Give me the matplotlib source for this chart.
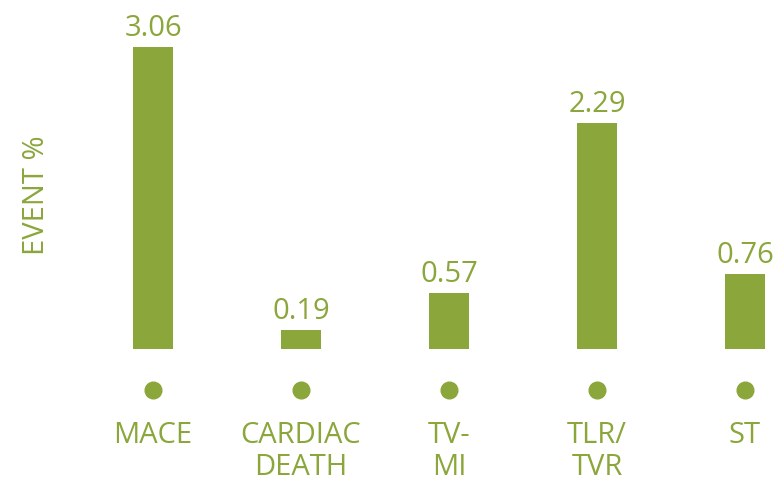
import matplotlib
matplotlib.use("Agg")
import matplotlib.pyplot as plt

categories = ["MACE", "CARDIAC\nDEATH", "TV-\nMI", "TLR/\nTVR", "ST"]
values = [3.06, 0.19, 0.57, 2.29, 0.76]
value_labels = ["3.06", "0.19", "0.57", "2.29", "0.76"]

GREEN = "#8ba63b"
plt.rcParams['font.family'] = ['Open Sans', 'DejaVu Sans']

fig = plt.figure(figsize=(7.76, 4.8), dpi=100)
ax = fig.add_axes([0, 0, 1, 1])
ax.set_xlim(-153/148, (776-153)/148)
unit = 98.7
ax.set_ylim(-(480-349)/unit, 349/unit)
ax.axis("off")

x = list(range(len(categories)))
ax.bar(x, values, width=40/148, color=GREEN)
for xi, v, lab in zip(x, values, value_labels):
    ax.annotate(lab, (xi, v), xytext=(0, 3), textcoords="offset points",
                ha="center", va="bottom", fontsize=21, color=GREEN)
ax.plot(x, [-41/unit]*len(x), "o", color=GREEN, markersize=12, linestyle="none")
for xi, c in zip(x, categories):
    ax.text(xi, -72/unit, c, ha="center", va="top", fontsize=21, color=GREEN,
            linespacing=1.12)

fig.text(37/776, 1-195/480, "EVENT %", rotation=90, ha="center", va="center",
         fontsize=21, color=GREEN)

fig.savefig("out.png", dpi=100)
